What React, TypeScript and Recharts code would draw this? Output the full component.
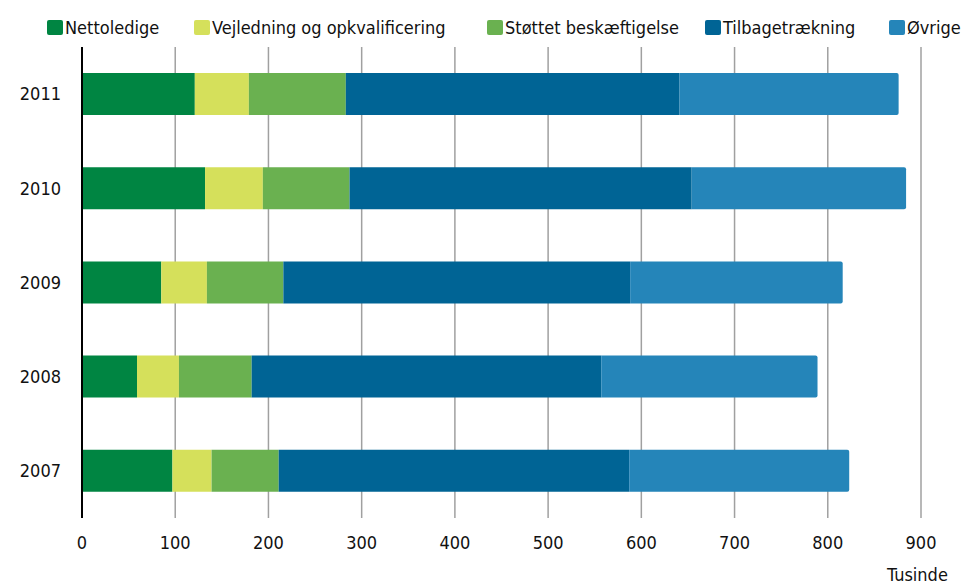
import { Bar, BarChart, CartesianGrid, XAxis, YAxis } from 'recharts';

const years = ['2011', '2010', '2009', '2008', '2007'];
const nettoledige = [121, 132, 85, 59, 97];
const vejledning = [58, 62, 49, 45, 42];
const stoettet = [104, 93, 82, 78, 72];
const tilbage = [358, 367, 372, 375, 376];
const oevrige = [235, 230, 228, 232, 236];
const xTicks = [0, 100, 200, 300, 400, 500, 600, 700, 800, 900];

const series = [
  { key: 'n', name: 'Nettoledige', color: '#008542', x: 47 },
  { key: 'v', name: 'Vejledning og opkvalificering', color: '#d5e05b', x: 194 },
  { key: 's', name: 'Støttet beskæftigelse', color: '#6ab150', x: 487 },
  { key: 't', name: 'Tilbagetrækning', color: '#006495', x: 705 },
  { key: 'o', name: 'Øvrige', color: '#2585b9', x: 889 },
];

const data = years.map((y, i) => ({
  year: y,
  n: nettoledige[i],
  v: vejledning[i],
  s: stoettet[i],
  t: tilbage[i],
  o: oevrige[i],
}));

const FONT = "'DejaVu Sans Condensed', 'Liberation Sans Narrow', sans-serif";

export default function App() {
  return (
    <div style={{ position: 'absolute', left: 0, top: 0, width: 980, height: 587, fontFamily: FONT }}>
      {series.map((s) => (
        <div
          key={s.key}
          style={{
            position: 'absolute',
            left: s.x,
            top: 17,
            display: 'flex',
            alignItems: 'center',
            fontSize: 18,
            color: '#111',
            whiteSpace: 'nowrap',
          }}
        >
          <span
            style={{ width: 16, height: 15, background: s.color, borderRadius: 2, marginRight: 2, display: 'inline-block' }}
          />
          <span>{s.name}</span>
        </div>
      ))}
      <BarChart
        width={980}
        height={587}
        data={data}
        layout="vertical"
        margin={{ top: 47, right: 59, bottom: 0, left: 0 }}
        barSize={42}
      >
        <CartesianGrid horizontal={false} stroke="#a0a0a0" strokeWidth={1.5} />
        <XAxis
          type="number"
          domain={[0, 900]}
          ticks={xTicks}
          height={69}
          axisLine={false}
          tickLine={false}
          tickSize={0}
          tickMargin={18}
          tick={{ fontSize: 18, fill: '#111', fontFamily: FONT }}
        />
        <YAxis
          type="category"
          dataKey="year"
          width={82}
          axisLine={{ stroke: '#000', strokeWidth: 2 }}
          tickLine={false}
          tickSize={0}
          tickMargin={21}
          tick={{ fontSize: 18, fill: '#111', fontFamily: FONT }}
        />
        {series.map((s, i) => (
          <Bar
            key={s.key}
            dataKey={s.key}
            name={s.name}
            stackId="a"
            fill={s.color}
            radius={i === series.length - 1 ? [0, 2, 2, 0] : 0}
            isAnimationActive={false}
          />
        ))}
      </BarChart>
      <div style={{ position: 'absolute', left: 887, top: 564, fontSize: 18, color: '#111' }}>Tusinde</div>
    </div>
  );
}
